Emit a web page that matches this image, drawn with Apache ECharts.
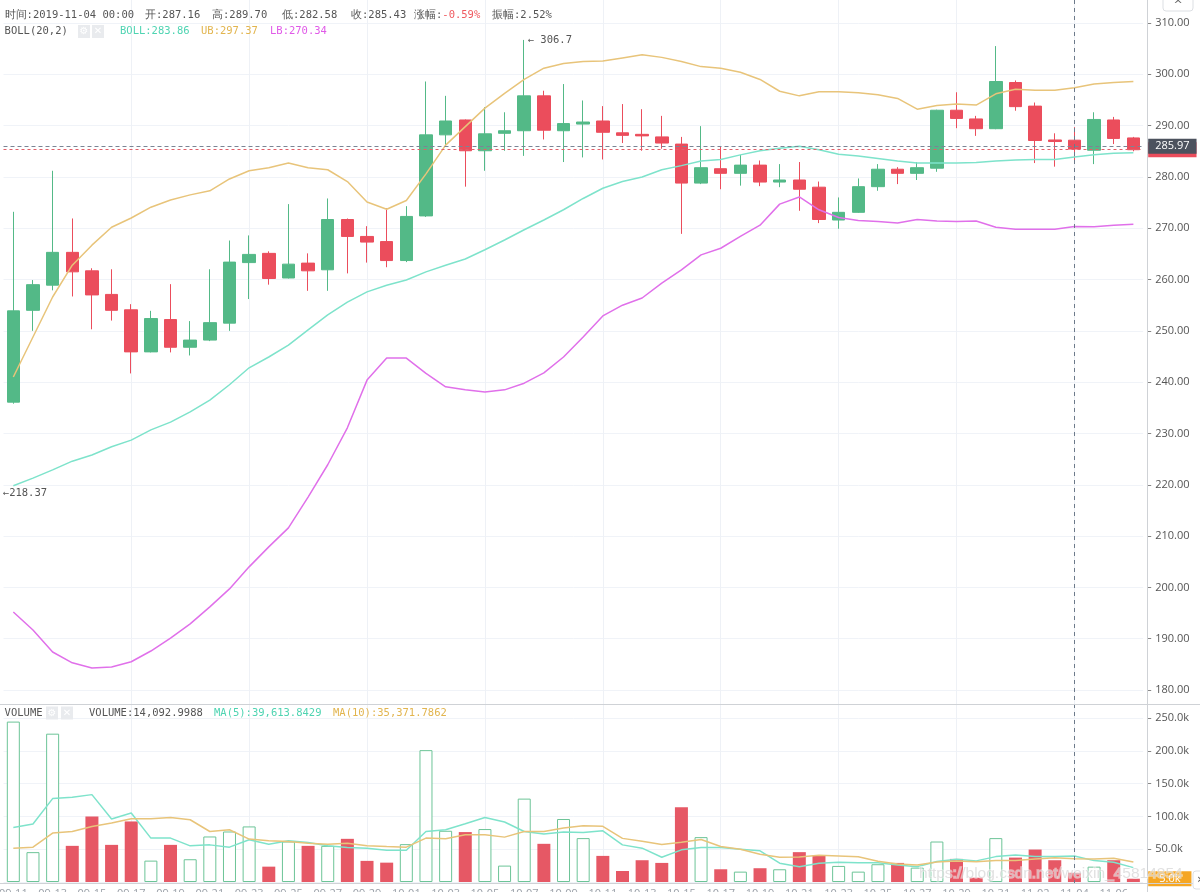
<!DOCTYPE html>
<html><head><meta charset="utf-8">
<script src="https://cdn.jsdelivr.net/npm/echarts@6/dist/echarts.min.js"></script>
<style>html,body{margin:0;padding:0;background:#fff}#c{width:1200px;height:892px}</style>
</head><body><div id="c"></div>
<script>
// ---------- DATA ----------
const categories = ['09-11','09-12','09-13','09-14','09-15','09-16','09-17','09-18','09-19','09-20',
'09-21','09-22','09-23','09-24','09-25','09-26','09-27','09-28','09-29','09-30',
'10-01','10-02','10-03','10-04','10-05','10-06','10-07','10-08','10-09','10-10',
'10-11','10-12','10-13','10-14','10-15','10-16','10-17','10-18','10-19','10-20',
'10-21','10-22','10-23','10-24','10-25','10-26','10-27','10-28','10-29','10-30',
'10-31','11-01','11-02','11-03','11-04','11-05','11-06','11-07'];
const opens  = [236.1,254.0,258.9,265.3,261.7,257.1,254.1,245.9,252.2,246.8,248.2,251.5,263.3,265.1,260.3,263.2,261.9,271.7,268.4,267.4,263.7,272.4,288.2,291.1,285.1,288.5,289.0,295.8,289.0,290.3,290.9,288.6,288.3,287.8,286.4,278.8,281.6,280.7,282.3,279.0,279.4,278.0,271.6,273.1,278.1,281.5,280.7,281.7,293.0,291.3,289.4,298.4,293.8,287.2,287.16,285.2,291.1,287.6];
const closes = [253.9,259.0,265.3,261.5,257.0,254.0,245.9,252.4,246.8,248.2,251.6,263.4,264.9,260.2,263.0,261.7,271.7,268.4,267.3,263.7,272.3,288.2,290.9,285.1,288.4,289.0,295.8,289.1,290.4,290.7,288.7,288.1,288.0,286.6,278.8,281.8,280.7,282.3,279.0,279.4,277.6,271.7,273.1,278.1,281.5,280.7,281.8,293.0,291.4,289.4,298.6,293.7,287.1,286.9,285.43,291.2,287.5,285.3];
const lows   = [235.8,250.0,257.9,256.7,250.3,252.0,241.7,245.8,245.8,245.2,248.0,250.0,256.2,259.0,260.2,257.8,257.8,261.2,263.3,262.4,263.4,272.2,286.2,278.1,281.2,285.1,284.1,287.3,282.9,283.8,283.4,286.6,285.1,285.5,268.9,278.6,277.6,278.3,278.2,278.0,273.4,271.0,269.9,273.0,277.3,278.6,279.4,281.0,289.5,288.0,289.3,292.9,282.7,282.0,282.58,282.5,286.4,285.0];
const highs  = [273.2,259.9,281.2,271.9,262.2,262.0,255.2,253.9,259.1,251.9,262.0,267.6,268.6,265.5,274.7,265.1,275.8,271.9,270.4,273.9,274.3,298.6,295.8,291.2,293.6,292.6,306.7,296.8,298.1,294.9,293.8,294.2,293.2,291.9,287.8,289.9,285.9,284.3,283.2,282.5,282.9,279.1,276.0,279.7,282.5,281.9,282.9,293.1,296.5,291.9,305.5,298.8,294.5,288.5,289.70,292.6,291.7,287.8];
const bollMid   = [219.8,221.3,222.9,224.6,225.8,227.4,228.7,230.7,232.2,234.2,236.5,239.5,242.8,244.9,247.2,250.2,253.1,255.6,257.6,258.9,259.9,261.5,262.8,264.0,265.8,267.7,269.7,271.6,273.6,275.8,277.8,279.1,280.0,281.4,282.2,283.1,283.4,284.3,285.1,285.6,286.0,285.3,284.4,284.1,283.6,283.1,282.7,282.7,282.7,282.8,283.1,283.3,283.4,283.4,283.86,284.3,284.6,284.7];
const bollUpper = [241.0,248.8,256.6,262.8,266.7,270.2,272.0,274.1,275.5,276.5,277.3,279.6,281.2,281.8,282.7,281.8,281.4,279.1,275.1,273.7,275.4,280.6,286.2,289.8,293.4,296.3,299.0,301.2,302.1,302.5,302.6,303.2,303.8,303.3,302.5,301.5,301.2,300.4,299.0,296.7,295.8,296.6,296.6,296.4,296.0,295.3,293.2,293.9,294.2,294.0,296.2,297.1,296.9,296.9,297.37,298.1,298.4,298.6];
const bollLower = [195.2,191.7,187.4,185.3,184.3,184.5,185.5,187.6,190.1,192.9,196.2,199.7,204.0,207.9,211.6,217.6,223.9,231.1,240.4,244.7,244.7,241.7,239.1,238.5,238.1,238.5,239.8,241.8,244.9,248.8,252.9,255.0,256.4,259.3,261.9,264.8,266.1,268.4,270.6,274.7,276.1,273.6,272.1,271.5,271.3,271.0,271.7,271.4,271.3,271.4,270.2,269.8,269.8,269.8,270.34,270.3,270.6,270.8];
const volumes = [244500,45500,226100,55100,100000,56600,92300,32600,56600,34700,69400,77000,84700,23400,61700,55100,55100,65800,32200,29500,57700,201000,78100,76100,80700,25000,127100,58200,96000,66900,39800,16800,33200,29100,113800,68400,19400,15800,21000,19400,45500,40300,24500,15800,27100,29100,21900,61700,35200,6600,66900,37200,49500,33200,14093,23400,33200,5000];
const volMA5  = [83100,88300,127100,129100,133200,96000,105200,66900,66900,55100,56600,53100,64300,57700,62800,60200,55100,52500,51600,48500,48500,77000,79600,88800,98400,91400,77000,73000,76100,75500,78100,56600,51600,37800,49000,52500,52500,50100,47500,28600,23400,28600,30200,29500,29500,26000,23400,31100,34800,32200,38700,41300,38700,38700,39614,32600,30200,21900];
const volMA10 = [51600,53100,74600,77000,84700,89900,96500,96500,98400,94900,77000,79600,65400,62800,61700,59200,57700,59200,55100,54000,53100,66900,65800,72000,72000,68400,77000,77000,82200,85700,84900,66500,62000,57300,60600,64900,54200,49900,42400,37700,38200,40600,39700,38400,31500,27500,26000,30600,32100,30800,32900,32600,35100,36800,35372,35000,36100,30600];
const gridLineIdx = [6,12,18,24,30,36,42,48,54];
const crossIdx = 54;
const crossPrice = 285.97;
const highMark = {idx: 26, value: 306.7};
const lowMark = {idx: 0, value: 218.37};

// ---------- STYLE ----------
const GREEN = '#53b987', RED = '#eb4d5c';
const C_MID = '#7ee3cb', C_UB = '#e8c47a', C_LB = '#e070ea';
const MONO = '"DejaVu Sans Mono", monospace';
const TXT = '#555';

const candleData = categories.map((c, i) => [opens[i], closes[i], lows[i], highs[i]]);
const volData = volumes.map((v, i) => closes[i] >= opens[i]
  ? {value: v, itemStyle: {color: '#ffffff', borderColor: '#6cc497', borderWidth: 1}}
  : {value: v, itemStyle: {color: '#e65865'}});
const lastClose = closes[closes.length - 1];
const lastVol = volumes[volumes.length - 1];

const GL = 3.5, GW = 1139.7;

function txt(x, y, text, fill, extra) {
  return Object.assign({type: 'text', silent: true, z: 50,
    style: {x: x, y: y, text: text, fill: fill || TXT, fontSize: 10.5, fontFamily: MONO, verticalAlign: 'middle'}}, extra || {});
}
function icon(x, y, ch) {
  return [{type: 'rect', silent: true, z: 50, shape: {x: x, y: y - 6.5, width: 12, height: 13},
           style: {fill: '#e9ebee'}},
          {type: 'text', silent: true, z: 51, style: {x: x + 6, y: y, text: ch, fill: '#fff', fontSize: 10,
           fontFamily: 'DejaVu Sans', align: 'center', verticalAlign: 'middle'}}];
}
function hline(y, x1, x2, color) {
  return {type: 'line', silent: true, z: 40, shape: {x1: x1, y1: y, x2: x2, y2: y}, style: {stroke: color, lineWidth: 1}};
}

const graphics = [
  txt(4.6, 15, '时间:2019-11-04 00:00'),
  txt(145, 15, '开:287.16'),
  txt(212, 15, '高:289.70'),
  txt(282, 15, '低:282.58'),
  txt(351, 15, '收:285.43'),
  {type: 'text', silent: true, z: 50, style: {x: 414, y: 15, text: '{a|涨幅:}{r|-0.59%}', verticalAlign: 'middle',
     rich: {a: {fill: TXT, fontSize: 10.5, fontFamily: MONO}, r: {fill: '#f0595f', fontSize: 10.5, fontFamily: MONO}}}},
  txt(492, 15, '振幅:2.52%'),
  txt(4.6, 31.5, 'BOLL(20,2)'),
  ...icon(78, 31.5, '⚙'), ...icon(92, 31.5, '✕'),
  txt(120, 31.5, 'BOLL:283.86', '#4fd4b2'),
  txt(201, 31.5, 'UB:297.37', '#e2b54f'),
  txt(270, 31.5, 'LB:270.34', '#e05ae8'),
  txt(4.6, 713, 'VOLUME'),
  ...icon(46, 713, '⚙'), ...icon(61, 713, '✕'),
  txt(89, 713, 'VOLUME:14,092.9988'),
  txt(214, 713, 'MA(5):39,613.8429', '#4fd4b2'),
  txt(333, 713, 'MA(10):35,371.7862', '#e2b54f'),
  // pane frames
  {type: 'line', silent: true, z: 40, shape: {x1: 1147.5, y1: 0, x2: 1147.5, y2: 892}, style: {stroke: '#cfd2d6', lineWidth: 1}},
  hline(704.5, 0, 1200, '#cfd2d6'),
  hline(883.5, 0, 1200, '#cfd2d6'),
  // collapse tab
  {type: 'rect', silent: true, z: 50, shape: {x: 1163, y: -4, width: 30, height: 15, r: 3}, style: {fill: '#fff', stroke: '#dcdfe3'}},
  {type: 'text', silent: true, z: 51, style: {x: 1178, y: 5, text: '^', fill: '#666', fontSize: 11, fontFamily: 'DejaVu Sans', align: 'center', verticalAlign: 'middle'}},
  {type: 'rect', silent: true, z: 50, shape: {x: 1193, y: 871, width: 14, height: 18, r: 3}, style: {fill: '#fff', stroke: '#dcdfe3'}},
  {type: 'text', silent: true, z: 51, style: {x: 1197, y: 880, text: '›', fill: '#555', fontSize: 13, fontFamily: 'DejaVu Sans', verticalAlign: 'middle'}},
  // watermark
  {type: 'text', silent: true, z: 60, style: {x: 919, y: 874, text: 'https://blog.csdn.net/weixin_45814854',
     fill: 'rgba(200,200,200,0.55)', stroke: 'rgba(255,255,255,0.5)', lineWidth: 1.5, fontSize: 15.5, fontFamily: 'Liberation Sans', verticalAlign: 'middle'}}
];

const axisLabelStyle = {color: TXT, fontSize: 11, fontFamily: '"Open Sans", sans-serif', margin: 8};

const option = {
  animation: false,
  backgroundColor: '#ffffff',
  grid: [
    {left: GL, top: 23, width: GW, height: 667, containLabel: false, outerBoundsMode: 'none'},
    {left: GL, top: 718, width: GW, height: 164, containLabel: false, outerBoundsMode: 'none'},
    {left: GL, top: 0, width: GW, height: 884, containLabel: false, outerBoundsMode: 'none'}
  ],
  xAxis: [
    {type: 'category', gridIndex: 0, data: categories, boundaryGap: true,
     axisLine: {show: false}, axisTick: {show: false}, axisLabel: {show: false}, splitLine: {show: false}},
    {type: 'category', gridIndex: 1, data: categories, boundaryGap: true,
     axisLine: {show: false}, axisTick: {show: false}, splitLine: {show: false},
     axisLabel: {show: true, interval: 1, margin: 6, color: '#9aa0a8', fontSize: 11, fontFamily: '"Open Sans", sans-serif'}},
    {type: 'category', gridIndex: 2, data: categories, boundaryGap: true, show: false}
  ],
  yAxis: [
    {type: 'value', gridIndex: 0, position: 'right', offset: 4, min: 180, max: 310, interval: 10,
     axisLine: {show: false}, axisTick: {show: true, length: 4, lineStyle: {color: '#888'}},
     axisLabel: Object.assign({formatter: v => v.toFixed(2)}, axisLabelStyle),
     splitLine: {show: true, lineStyle: {color: '#f0f3f8', width: 1}}},
    {type: 'value', gridIndex: 1, position: 'right', offset: 4, min: 0, max: 250000, interval: 50000,
     axisLine: {show: false}, axisTick: {show: true, length: 4, lineStyle: {color: '#888'}},
     axisLabel: Object.assign({formatter: v => (v / 1000).toFixed(1) + 'k', showMinLabel: false}, axisLabelStyle),
     splitLine: {show: true, lineStyle: {color: '#f0f3f8', width: 1}}},
    {type: 'value', gridIndex: 2, min: 0, max: 1, show: false}
  ],
  graphic: graphics,
  series: [
    {name: 'gridlines', type: 'line', xAxisIndex: 2, yAxisIndex: 2, data: categories.map(() => null), z: 0, silent: true,
     markLine: {silent: true, symbol: ['none', 'none'], z: 0, label: {show: false},
       lineStyle: {color: '#eef1f6', type: 'solid', width: 1},
       data: gridLineIdx.map(i => ({xAxis: categories[i]}))}},
    {name: 'K', type: 'candlestick', xAxisIndex: 0, yAxisIndex: 0, data: candleData, barWidth: 13,
     itemStyle: {color: GREEN, color0: RED, borderColor: GREEN, borderColor0: RED, borderWidth: 1},
     markPoint: {silent: true, symbol: 'rect', symbolSize: 1, itemStyle: {color: 'rgba(0,0,0,0)'},
       data: [
         {coord: [categories[highMark.idx], highMark.value],
          label: {show: true, position: 'right', distance: 3, formatter: '← ' + highMark.value, color: TXT, fontSize: 10.5, fontFamily: MONO}},
         {coord: [categories[lowMark.idx], lowMark.value],
          label: {show: true, position: 'right', offset: [-16, 0], formatter: '←' + lowMark.value, color: TXT, fontSize: 10.5, fontFamily: MONO}}
       ]},
     markLine: {silent: true, symbol: ['none', 'none'],
       lineStyle: {color: '#e0606a', type: [3, 3], width: 1},
       label: {show: true, position: 'end', distance: 5, formatter: lastClose.toFixed(2), backgroundColor: RED,
               color: '#fff', padding: [2, 7], fontSize: 11, fontFamily: '"Open Sans", sans-serif'},
       data: [{yAxis: lastClose}]}},
    {name: 'UB', type: 'line', xAxisIndex: 0, yAxisIndex: 0, data: bollUpper, showSymbol: false, symbol: 'none',
     lineStyle: {color: C_UB, width: 1.5}, z: 3},
    {name: 'LB', type: 'line', xAxisIndex: 0, yAxisIndex: 0, data: bollLower, showSymbol: false, symbol: 'none',
     lineStyle: {color: C_LB, width: 1.5}, z: 3},
    {name: 'BOLL', type: 'line', xAxisIndex: 0, yAxisIndex: 0, data: bollMid, showSymbol: false, symbol: 'none',
     lineStyle: {color: C_MID, width: 1.5}, z: 3,
     markLine: {silent: true, symbol: ['none', 'none'],
       lineStyle: {color: '#7a8595', type: [4, 3], width: 1},
       label: {show: true, position: 'end', distance: 5, formatter: crossPrice.toFixed(2), backgroundColor: '#4c525e',
               color: '#fff', padding: [2, 7], fontSize: 11, fontFamily: '"Open Sans", sans-serif'},
       data: [{yAxis: crossPrice}]}},
    {name: 'VOLUME', type: 'bar', xAxisIndex: 1, yAxisIndex: 1, data: volData, barWidth: 13},
    {name: 'MA5', type: 'line', xAxisIndex: 1, yAxisIndex: 1, data: volMA5, showSymbol: false, symbol: 'none',
     lineStyle: {color: C_MID, width: 1.5}, z: 3},
    {name: 'MA10', type: 'line', xAxisIndex: 1, yAxisIndex: 1, data: volMA10, showSymbol: false, symbol: 'none',
     lineStyle: {color: C_UB, width: 1.5}, z: 3,
     markLine: {silent: true, symbol: ['none', 'none'], z: 20,
       lineStyle: {color: 'rgba(0,0,0,0)', width: 1},
       label: {show: true, position: 'end', distance: 5, formatter: (lastVol / 1000).toFixed(1) + 'k', backgroundColor: '#f5a623',
               color: '#fff', padding: [2, 11], fontSize: 11, fontFamily: '"Open Sans", sans-serif'},
       data: [{yAxis: lastVol}]}},
    {name: 'crosshair', type: 'line', xAxisIndex: 2, yAxisIndex: 2, data: categories.map(() => null), z: 10, silent: true,
     markLine: {silent: true, symbol: ['none', 'none'], z: 10, label: {show: false},
       lineStyle: {color: '#6d7a8a', type: [4, 4], width: 1},
       data: [{xAxis: categories[crossIdx]}]}}
  ]
};

const chart = echarts.init(document.getElementById('c'), null, {renderer: 'canvas'});
chart.setOption(option);
</script></body></html>
